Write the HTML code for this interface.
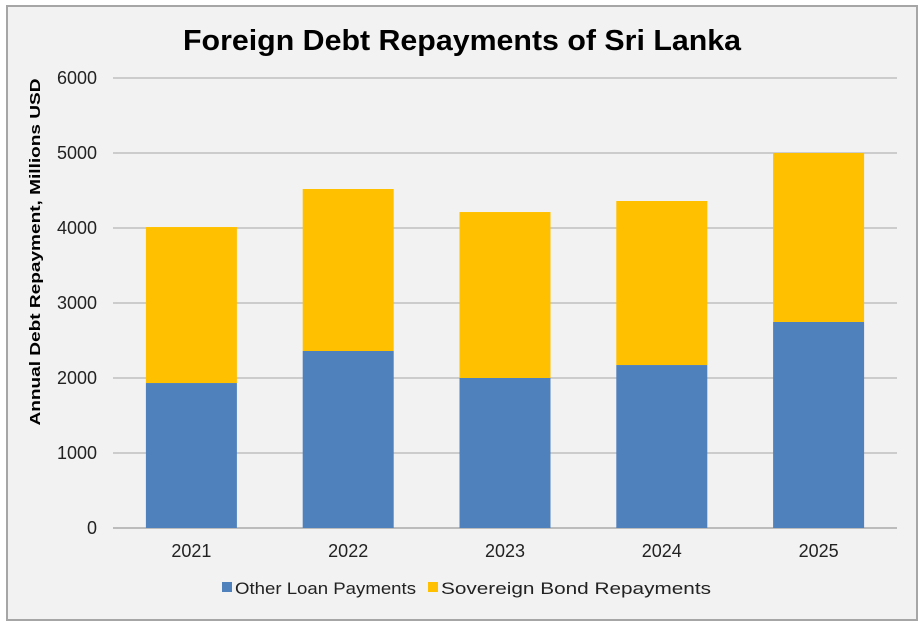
<!DOCTYPE html>
<html><head><meta charset="utf-8"><style>
html,body{margin:0;padding:0;background:#fff;}
svg{display:block;font-family:"Liberation Sans",Arial,sans-serif;}
</style></head><body>
<svg id="chart" width="924" height="629" viewBox="0 0 924 629">
<rect x="7" y="6" width="910" height="614" fill="#f2f2f2" stroke="#a6a6a6" stroke-width="2"/>
<text x="462" y="50" text-anchor="middle" font-size="29" font-weight="bold" fill="#000" textLength="558" lengthAdjust="spacingAndGlyphs">Foreign Debt Repayments of Sri Lanka</text>
<text transform="translate(40,252) rotate(-90)" text-anchor="middle" font-size="15" font-weight="bold" fill="#000" textLength="347" lengthAdjust="spacingAndGlyphs">Annual Debt Repayment, Millions USD</text>
<g id="grid"></g><g id="bars"></g><g id="ticks"></g>
<g>
<rect x="222" y="582" width="10" height="10" fill="#4f81bd"/>
<text x="235" y="594" font-size="17" fill="#222" textLength="181" lengthAdjust="spacingAndGlyphs">Other Loan Payments</text>
<rect x="428" y="582" width="10" height="10" fill="#ffc000"/>
<text x="441" y="594" font-size="17" fill="#222" textLength="270" lengthAdjust="spacingAndGlyphs">Sovereign Bond Repayments</text>
</g>
</svg>
<script>
const categories=["2021","2022","2023","2024","2025"];
const otherLoans=[1933,2360,2000,2173,2747];
const sovereignBonds=[2080,2160,2213,2187,2253];
const yTicks=[0,1000,2000,3000,4000,5000,6000];
const NS="http://www.w3.org/2000/svg";
const x0=113,x1=897,yBase=528,yTop=78,yMax=6000;
const y=v=>yBase-(v/yMax)*(yBase-yTop);
const band=(x1-x0)/categories.length;
const bw=91;
const cx=i=>x0+band*(i+0.5);
function mk(tag,attrs){const e=document.createElementNS(NS,tag);for(const k in attrs)e.setAttribute(k,attrs[k]);return e;}
const grid=document.getElementById('grid'),bars=document.getElementById('bars'),ticks=document.getElementById('ticks');
yTicks.forEach(t=>{
 const l=mk('line',{x1:x0,x2:x1,y1:y(t),y2:y(t),stroke:t===0?'#868686':'#a6a6a6','stroke-width':1});
 
 
 grid.appendChild(l);
 const tx=mk('text',{x:97,y:y(t)+6,'text-anchor':'end','font-size':18,fill:'#222'});
 tx.textContent=t;
 
 
 ticks.appendChild(tx);
});
categories.forEach((c,i)=>{
 const a=otherLoans[i],b=sovereignBonds[i];
 const r1=mk('rect',{x:cx(i)-bw/2,y:y(a),width:bw,height:y(0)-y(a),fill:'#4f81bd'});
 
 
 bars.appendChild(r1);
 const r2=mk('rect',{x:cx(i)-bw/2,y:y(a+b),width:bw,height:y(a)-y(a+b),fill:'#ffc000'});
 
 
 bars.appendChild(r2);
 const tx=mk('text',{x:cx(i),y:557,'text-anchor':'middle','font-size':18,fill:'#222'});
 tx.textContent=c;
 
 
 ticks.appendChild(tx);
});
</script>
</body></html>
